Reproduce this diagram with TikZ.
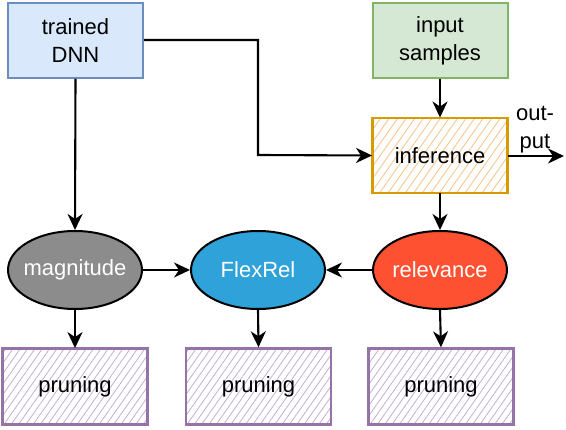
\documentclass[tikz,border=0pt]{standalone}
\usepackage{fontspec}
\setmainfont{Liberation Sans}
\usetikzlibrary{arrows.meta,patterns.meta,shapes.geometric}
\definecolor{dnnfill}{HTML}{DAE8FC}
\definecolor{dnnline}{HTML}{6C8EBF}
\definecolor{insfill}{HTML}{D5E8D4}
\definecolor{insline}{HTML}{82B366}
\definecolor{infline}{HTML}{D79B00}
\definecolor{infhatch}{HTML}{F9C890}
\definecolor{prline}{HTML}{9673A6}
\definecolor{prhatch}{HTML}{C4AED2}
\definecolor{magfill}{HTML}{8C8C8C}
\definecolor{flexfill}{HTML}{2EA2D9}
\definecolor{relfill}{HTML}{FD5131}
\tikzset{
  every node/.style={font=\fontsize{22}{28}\selectfont, align=center, inner sep=0pt},
  plainbox/.style={rectangle, minimum width=135pt, minimum height=75pt, line width=2pt},
  dnnbox/.style={plainbox, draw=dnnline, fill=dnnfill},
  insbox/.style={plainbox, draw=insline, fill=insfill},
  infbox/.style={plainbox, draw=infline, line width=2.4pt,
    pattern={Lines[angle=55,distance=7pt,line width=0.9pt]}, pattern color=infhatch},
  prbox/.style={rectangle, minimum width=145pt, minimum height=76pt, draw=prline, line width=2.4pt,
    pattern={Lines[angle=55,distance=6pt,line width=0.8pt]}, pattern color=prhatch},
  oval/.style={ellipse, minimum width=134pt, minimum height=78pt, draw=black, line width=2pt, text=white,
    execute at begin node={\hbox to 0pt\bgroup\hss}, execute at end node={\hss\egroup}},
  conn/.style={line width=2.1pt, -{Stealth[length=16pt,width=15pt,inset=5pt]}},
}
\begin{document}
\begin{tikzpicture}[x=1pt,y=-1pt]
\useasboundingbox (0,0) rectangle (566,430);
\fill[white] (0,0) rectangle (566,430);
\node[dnnbox] (dnn) at (75.5,40.5) {trained\\DNN};
\node[insbox] (ins) at (440,40.5) {input\\samples};
\node[infbox] (inf) at (440,155.5) {inference};
\node[oval, fill=magfill] (mag) at (75,270) {magnitude};
\node[oval, fill=flexfill] (flex) at (258,270) {FlexRel};
\node[oval, fill=relfill] (rel) at (440,270) {relevance};
\node[prbox] (pr1) at (75,386.5) {pruning};
\node[prbox] (pr2) at (258.5,386.5) {pruning};
\node[prbox] (pr3) at (441,386.5) {pruning};
\coordinate (out) at (564,156);
\node (outlbl) at (535,130) {out-\\put};
\draw[conn] (dnn.east |- 0,40) -| (258,155) -- (inf.west);
\draw[conn] (ins.south) -- (inf.north);
\draw[conn] (inf.east |- out) -- (out);
\draw[conn] (dnn.south) -- (mag.north);
\draw[conn] (inf.south) -- (rel.north);
\draw[conn] (mag.east) -- (flex.west);
\draw[conn] (rel.west) -- (flex.east);
\draw[conn] (mag.south) -- (pr1.north);
\draw[conn] (flex.south) -- (pr2.north);
\draw[conn] (rel.south) -- (pr3.north);
\end{tikzpicture}
\end{document}
